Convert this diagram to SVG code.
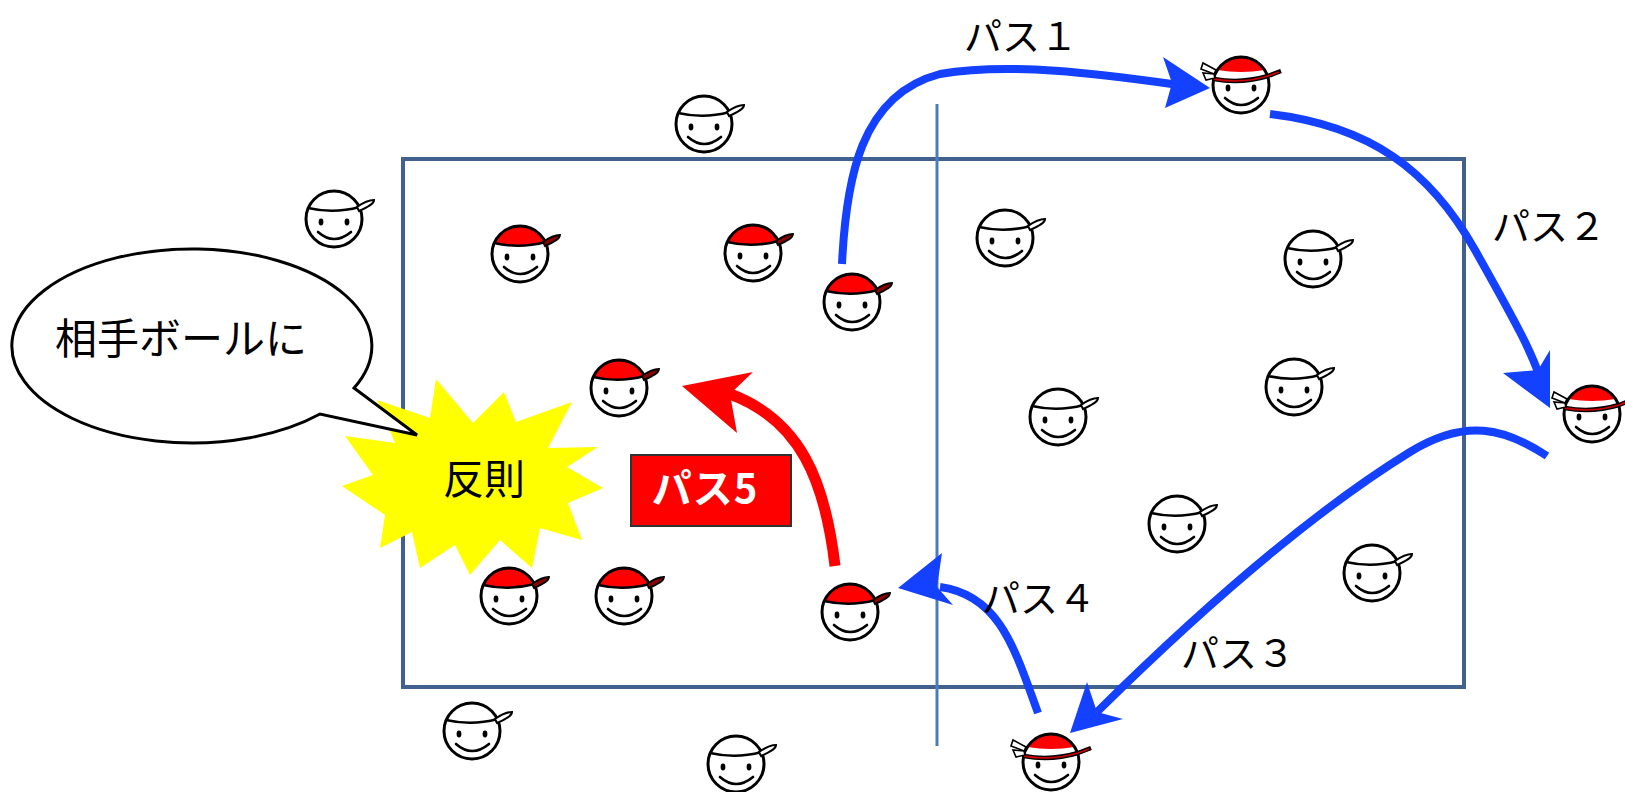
<svg xmlns="http://www.w3.org/2000/svg" xmlns:xlink="http://www.w3.org/1999/xlink" width="1625" height="792" viewBox="0 0 1625 792">
  <style>
    .court { fill: none; stroke: #41618e; stroke-width: 4; }
    .mid { stroke: #4a7ebb; stroke-width: 3; }
    .pass { fill: none; stroke: #1440ff; stroke-width: 8; }
    .passhead { fill: #1440ff; }
    .foul { fill: none; stroke: #ff0000; stroke-width: 11; }
    .foulhead { fill: #ff0000; }
    .lbl { font-family: "Noto Sans CJK JP", "Noto Sans", sans-serif; fill: #000; }
  </style>
  <defs>
    <!-- plain face -->
    <g id="head">
      <circle r="28" fill="#fff" stroke="none"/>
    </g>
    <g id="features">
      <ellipse cx="-13" cy="3" rx="2.4" ry="3.4" fill="#000"/>
      <ellipse cx="13" cy="3" rx="2.4" ry="3.4" fill="#000"/>
      <path d="M -16 13 Q 0 27 17 13" fill="none" stroke="#000" stroke-width="2.6" stroke-linecap="round"/>
    </g>
    <!-- white team: cap outline only -->
    <g id="pWhite">
      <use href="#head"/>
      <circle r="28" fill="none" stroke="#000" stroke-width="3"/>
      <path d="M -26 -11 Q 0 -5 25.5 -12" fill="none" stroke="#000" stroke-width="2.6"/>
      <path d="M 23 -12 C 30 -17 36 -19 40 -19 C 40 -15 34 -12 25 -8 Z" fill="#fff" stroke="#000" stroke-width="2"/>
      <use href="#features"/>
    </g>
    <!-- red team: red cap -->
    <g id="pRed">
      <use href="#head"/>
      <path d="M -26 -11 A 28 28 0 0 1 25.5 -12 Q 0 -5 -26 -11 Z" fill="#ff0000"/>
      <circle r="28" fill="none" stroke="#000" stroke-width="3"/>
      <path d="M -26 -11 Q 0 -5 25.5 -12" fill="none" stroke="#000" stroke-width="2.6"/>
      <path d="M 23 -12 C 30 -17 36 -19 40 -19 C 40 -15 34 -12 25 -8 Z" fill="#8b0000" stroke="#000" stroke-width="1.8"/>
      <use href="#features"/>
    </g>
    <!-- red team with headband -->
    <g id="pBand">
      <use href="#head"/>
      <path d="M -23.6 -15 A 28 28 0 0 1 23.6 -15 Q 0 -11 -23.6 -15 Z" fill="#ff0000"/>
      <circle r="28" fill="none" stroke="#000" stroke-width="3"/>
      <path d="M -27 -6 Q 0 -1 27 -9 L 40 -14" fill="none" stroke="#000" stroke-width="4.5" stroke-linejoin="round"/>
      <path d="M -27 -6 Q 0 -1 27 -9 L 38 -13" fill="none" stroke="#cc0000" stroke-width="1.8"/>
      <polygon points="-25,-15 -38,-22 -40,-16 -27,-11" fill="#fff" stroke="#000" stroke-width="1.6"/>
      <polygon points="-27,-11 -38,-12 -35,-5 -26,-7" fill="#fff" stroke="#000" stroke-width="1.6"/>
      <use href="#features"/>
    </g>
  </defs>

  <rect width="1625" height="792" fill="#fff"/>

  <!-- court -->
  <g id="court">
    <rect class="court" x="403" y="159" width="1061" height="528"/>
    <line class="mid" x1="937" y1="104" x2="937" y2="746"/>
  </g>

  <!-- foul burst -->
  <g id="foul">
    <polygon fill="#ffff00" points="342,486 373,475 345,436 395,443 377,400 430,418 436,379 473,423 504,392 516,422 572,402 548,448 598,447 567,467 603,488 568,503 582,540 540,528 532,568 500,540 470,575 455,545 420,568 412,532 380,548 385,515"/>
    <text class="lbl" x="484" y="494" font-size="41" text-anchor="middle">反則</text>
  </g>

  <!-- speech balloon -->
  <g id="balloon">
    <path d="M 320 414 A 180 97 0 1 1 354 388 L 417 435 Z" fill="#fff" stroke="#000" stroke-width="3" stroke-linejoin="miter"/>
    <text class="lbl" x="181" y="354" font-size="42" text-anchor="middle">相手ボールに</text>
  </g>

  <!-- pass 5 label -->
  <g id="pass5">
    <rect x="631" y="455" width="160" height="71" fill="#ff0000" stroke="#333" stroke-width="2"/>
    <text x="705" y="503" font-size="40" font-weight="bold" fill="#fff" text-anchor="middle" letter-spacing="1" font-family="'Noto Sans CJK JP', 'Noto Sans', sans-serif">パス5</text>
  </g>

  <!-- connectors -->
  <g id="connectors">
    <path class="pass" d="M 842 264 C 846 180 860 95 940 74 C 1010 62 1100 74 1172 84"/>
    <polygon class="passhead" points="1210,88 1163,57 1172,83 1165,108"/>
    <path class="pass" d="M 1270 114 C 1370 126 1430 170 1475 250 S 1530 350 1538 372"/>
    <polygon class="passhead" points="1550,408 1503,373 1538,370 1550,350"/>
    <path class="pass" d="M 1547 456 C 1505 428 1465 418 1410 452 C 1300 520 1180 630 1097 712"/>
    <polygon class="passhead" points="1070,733 1087,682 1097,712 1123,719"/>
    <path class="pass" d="M 1038 713 C 1015 650 1000 595 940 587"/>
    <polygon class="passhead" points="898,588 942,553 937,587 953,605"/>
    <path class="foul" d="M 835 566 C 825 480 800 420 730 394"/>
    <polygon class="foulhead" points="682,386 753,372 730,394 737,433"/>
  </g>

  <!-- pass labels -->
  <g id="labels">
    <text class="lbl" x="964" y="50" font-size="38">パス１</text>
    <text class="lbl" x="1492" y="240" font-size="38">パス２</text>
    <text class="lbl" x="1181" y="667" font-size="38">パス３</text>
    <text class="lbl" x="982" y="612" font-size="38">パス４</text>
  </g>

  <!-- white team -->
  <g id="w1"><use href="#pWhite" x="704" y="124"/></g>
  <g id="w2"><use href="#pWhite" x="334" y="219"/></g>
  <g id="w3"><use href="#pWhite" x="1005" y="238"/></g>
  <g id="w4"><use href="#pWhite" x="1313" y="259"/></g>
  <g id="w5"><use href="#pWhite" x="1058" y="417"/></g>
  <g id="w6"><use href="#pWhite" x="1294" y="387"/></g>
  <g id="w7"><use href="#pWhite" x="1177" y="524"/></g>
  <g id="w8"><use href="#pWhite" x="1372" y="573"/></g>
  <g id="w9"><use href="#pWhite" x="472" y="731"/></g>
  <g id="w10"><use href="#pWhite" x="736" y="764"/></g>

  <!-- red team -->
  <g id="r1"><use href="#pRed" x="520" y="254"/></g>
  <g id="r2"><use href="#pRed" x="753" y="253"/></g>
  <g id="r3"><use href="#pRed" x="852" y="302"/></g>
  <g id="r4"><use href="#pRed" x="619" y="388"/></g>
  <g id="r5"><use href="#pRed" x="509" y="596"/></g>
  <g id="r6"><use href="#pRed" x="624" y="596"/></g>
  <g id="r7"><use href="#pRed" x="850" y="612"/></g>

  <!-- red team, headband -->
  <g id="b1"><use href="#pBand" x="1241" y="85"/></g>
  <g id="b2"><use href="#pBand" x="1592" y="414"/></g>
  <g id="b3"><use href="#pBand" x="1051" y="762"/></g>
</svg>
